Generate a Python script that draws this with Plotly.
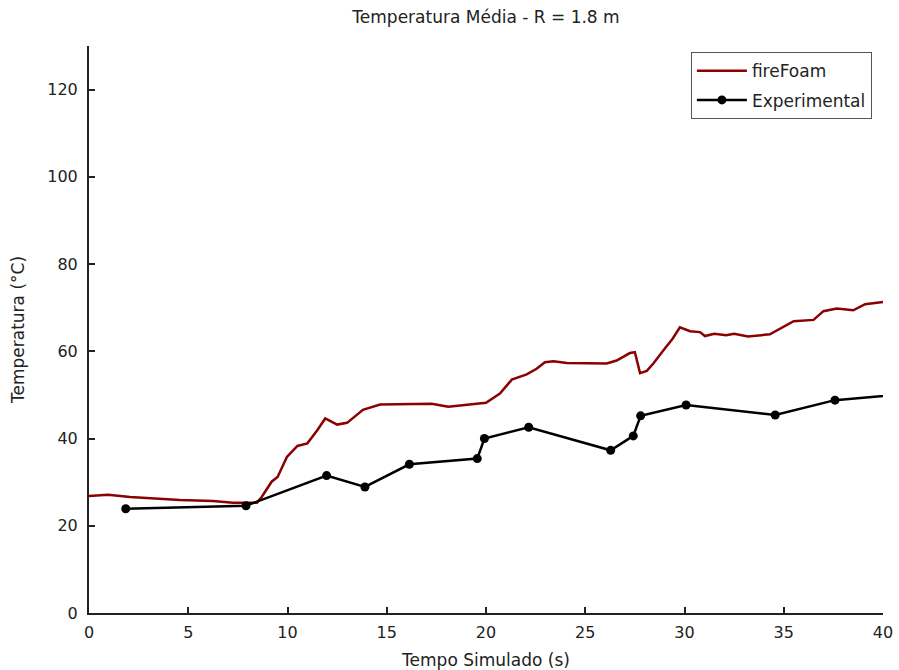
import plotly.graph_objects as go

# fireFoam simulated mean temperature (time in s, temperature in °C)
ff_time = [0.0, 0.96, 2.07, 4.58, 6.25, 7.25, 8.46, 8.7, 9.2, 9.5, 9.97, 10.5, 11.0,
           11.5, 11.9, 12.5, 13.0, 13.8, 14.66, 16.26, 17.26, 18.1, 19.0, 20.0, 20.7,
           21.3, 22.05, 22.55, 22.97, 23.4, 24.07, 25.07, 26.08, 26.58, 27.25, 27.5,
           27.76, 28.1, 28.43, 29.0, 29.4, 29.77, 30.28, 30.78, 31.03, 31.5, 32.1,
           32.5, 33.2, 34.3, 34.8, 35.5, 36.5, 37.0, 37.67, 38.5, 39.1, 40.0]
ff_temp = [26.8, 27.1, 26.6, 25.9, 25.7, 25.3, 25.3, 26.6, 30.1, 31.2, 35.8, 38.3, 38.9,
           41.9, 44.6, 43.2, 43.6, 46.6, 47.8, 48.0, 48.0, 47.3, 47.8, 48.2, 50.3,
           53.5, 54.7, 56.0, 57.5, 57.7, 57.3, 57.3, 57.2, 57.9, 59.6, 59.8,
           55.0, 55.5, 57.2, 60.6, 62.9, 65.5, 64.6, 64.4, 63.5, 64.0, 63.7,
           64.0, 63.4, 63.9, 65.2, 66.9, 67.2, 69.2, 69.8, 69.4, 70.8, 71.3]

# Experimental measurements
exp_time = [1.85, 7.91, 11.97, 13.9, 16.14, 19.56, 19.92, 22.15, 26.28, 27.42, 27.79,
            30.08, 34.57, 37.58, 42.0]
exp_temp = [23.9, 24.6, 31.5, 28.9, 34.1, 35.4, 40.0, 42.6, 37.3, 40.6, 45.2,
            47.7, 45.4, 48.8, 50.5]

FONT = "DejaVu Sans"
INK = "#222222"

fig = go.Figure()
fig.add_trace(go.Scatter(
    x=ff_time, y=ff_temp, mode="lines", name="fireFoam", legendgroup="a",
    line=dict(color="#8b0000", width=2.5),
))
fig.add_trace(go.Scatter(
    x=exp_time, y=exp_temp, mode="lines+markers", name="Experimental", legendgroup="b",
    line=dict(color="black", width=2.5),
    marker=dict(color="black", size=9),
))

axis_common = dict(
    showgrid=False, zeroline=False, showline=True, linecolor=INK, linewidth=2,
    ticks="inside", ticklen=6, tickwidth=1.5, tickcolor=INK,
    tickfont=dict(family=FONT, size=16, color=INK),
    mirror=False, automargin=False,
)

fig.update_xaxes(range=[0, 40], dtick=5, tick0=0, ticklabelstandoff=4,
                 title=dict(text="Tempo Simulado (s)", font=dict(family=FONT, size=17, color=INK), standoff=14),
                 **axis_common)
fig.update_yaxes(range=[0, 130], dtick=20, tick0=0, ticklabelstandoff=6,
                 title=dict(text="Temperatura (°C)", font=dict(family=FONT, size=17, color=INK), standoff=18),
                 **axis_common)

fig.update_layout(
    width=899, height=670,
    margin=dict(l=89, r=16, t=46, b=57),
    paper_bgcolor="white", plot_bgcolor="white",
    title=dict(text="Temperatura Média - R = 1.8 m", x=0.5406, xanchor="center",
               y=0.974, yanchor="middle",
               font=dict(family=FONT, size=17, color=INK)),
    legend=dict(x=0.986, y=0.989, xanchor="right", yanchor="top",
                bordercolor="#555555", borderwidth=1, bgcolor="white",
                tracegroupgap=4, itemwidth=50,
                font=dict(family=FONT, size=17, color=INK)),
    font=dict(family=FONT),
)

fig.write_html("out.html")
